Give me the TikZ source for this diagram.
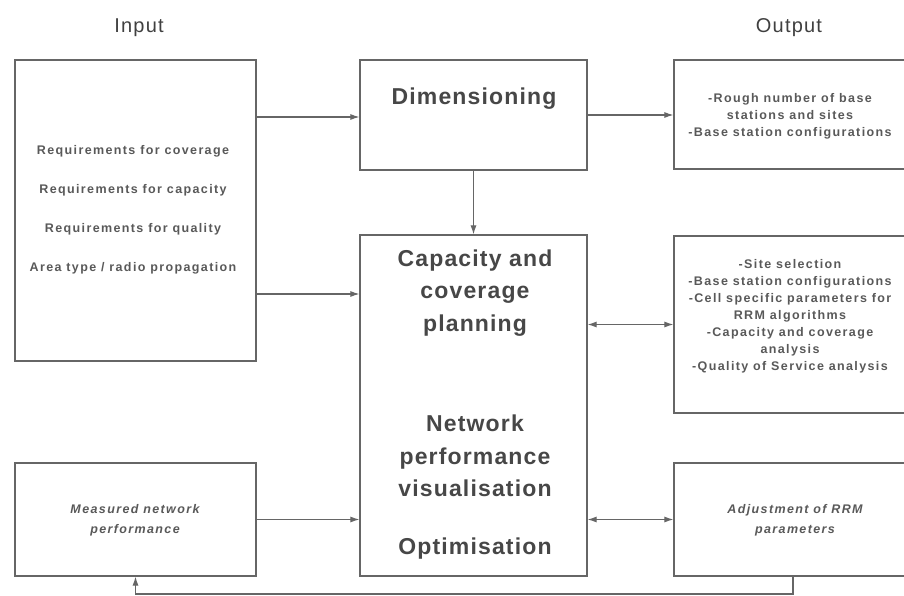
\documentclass[tikz,border=0pt]{standalone}
\usepackage{fontspec}
\setmainfont{Liberation Sans}
\newfontfamily\smallf[LetterSpace=11]{Liberation Sans}
\newfontfamily\bigf[LetterSpace=5]{Liberation Sans}
\newfontfamily\titlef[LetterSpace=6]{Liberation Sans}
\usetikzlibrary{arrows.meta}
\begin{document}
\begin{tikzpicture}[x=1pt,y=-1pt,
  box/.style={draw=black!60, line width=1.2pt, rectangle, inner sep=0pt},
  small/.style={font=\smallf\bfseries\fontsize{12.5}{17}\selectfont, text=black!65, align=center, inner sep=0pt},
  smallit/.style={font=\smallf\bfseries\itshape\fontsize{12.5}{20}\selectfont, text=black!65, align=center, inner sep=0pt},
  big/.style={font=\bigf\bfseries\fontsize{23}{32.5}\selectfont, text=black!72, align=center, inner sep=0pt},
  title/.style={font=\titlef\fontsize{20}{24}\selectfont, text=black!75, inner sep=0pt},
  conn/.style={draw=black!60, line width=1.1pt},
  arr/.style={conn, -{Latex[length=9pt,width=6pt]}},
  darr/.style={conn, {Latex[length=9pt,width=6pt]}-{Latex[length=9pt,width=6pt]}}
]
\useasboundingbox (0,0) rectangle (904,596);
\clip (0,0) rectangle (904,596);
\fill[white] (0,0) rectangle (904,596);

% titles
\node[title] (tin) at (139,28) {Input};
\node[title] (tout) at (789,28) {Output};

% boxes
\node[box, minimum width=241pt, minimum height=301pt] (input) at (135.5,210.5) {};
\node[box, minimum width=227pt, minimum height=110pt] (dim) at (473.5,115) {};
\node[box, minimum width=227pt, minimum height=341pt] (central) at (473.5,405.5) {};
\node[box, minimum width=238pt, minimum height=109pt] (out1) at (793,114.5) {};
\node[box, minimum width=238pt, minimum height=177pt] (out2) at (793,324.5) {};
\node[box, minimum width=238pt, minimum height=113pt] (out3) at (793,519.5) {};
\node[box, minimum width=241pt, minimum height=113pt] (meas) at (135.5,519.5) {};

% texts
\node[small, font=\smallf\bfseries\fontsize{12.5}{39}\selectfont] (intext) at (133,210)
  {Requirements for coverage\\Requirements for capacity\\Requirements for quality\\Area type / radio propagation};
\node[big] (dimtext) at (474,99) {Dimensioning};
\node[big] (captext) at (475,293) {Capacity and\\coverage\\planning};
\node[big] (nettext) at (475,456) {Network\\performance\\visualisation};
\node[big] (opttext) at (475,549) {Optimisation};
\node[small] (out1text) at (790,116) {-Rough number of base\\stations and sites\\-Base station configurations};
\node[small] (out2text) at (790,316) {-Site selection\\-Base station configurations\\-Cell specific parameters for\\RRM algorithms\\-Capacity and coverage\\analysis\\-Quality of Service analysis};
\node[smallit] (out3text) at (795,520) {Adjustment of RRM\\parameters};
\node[smallit] (meastext) at (135,520) {Measured network\\performance};

% connectors
\coordinate (c1) at (0,117);
\coordinate (c2) at (0,294);
\coordinate (fb) at (0,594);
\draw[arr] (input.east |- c1) -- (dim.west |- c1);
\draw[arr] (input.east |- c2) -- (central.west |- c2);
\draw[arr] (dim.south) -- (central.north);
\draw[arr] (dim.east) -- (out1.west |- dim.east);
\draw[darr] (central.east |- out2.west) -- (out2.west);
\draw[arr] (meas.east) -- (central.west |- meas.east);
\draw[darr] (central.east |- out3.west) -- (out3.west);
\draw[arr] (out3.south) -- (out3.south |- fb) -| (meas.south);
\end{tikzpicture}
\end{document}
